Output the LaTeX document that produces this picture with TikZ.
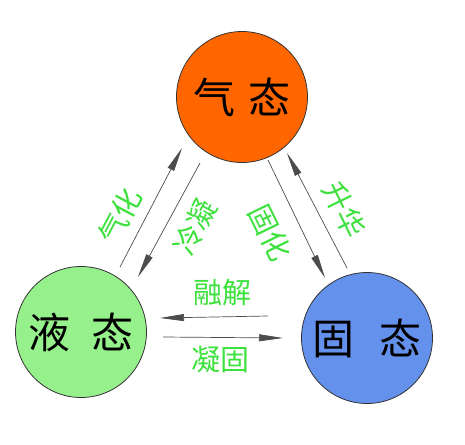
\documentclass[tikz,border=0pt]{standalone}
\usepackage{fontspec}
\setmainfont{Noto Sans CJK SC}
\usetikzlibrary{arrows.meta}
\definecolor{gasc}{RGB}{255,102,0}
\definecolor{liqc}{RGB}{150,240,140}
\definecolor{solc}{RGB}{100,145,235}
\definecolor{labc}{RGB}{60,225,60}
\tikzset{every picture/.style={line width=0.75pt}}
\tikzset{
  phase/.style={circle,draw=black!80,line width=0.8pt,minimum size=131pt,inner sep=0pt,font=\fontsize{42}{42}\selectfont},
  trans/.style={text=labc,inner sep=0pt,font=\fontsize{29}{29}\selectfont},
  flow/.style={->,>={Stealth[length=24pt,width=7pt,inset=0pt]},draw=black!70,line width=0.7pt}
}
\begin{document}
\begin{tikzpicture}[x=1pt,y=-1pt]
				\useasboundingbox (0,0) rectangle (465,444);
				\node[phase,fill=gasc] (gas) at (242,97) {气\hspace{0.3em}态}; %気体
				\node[phase,fill=liqc] (liq) at (81,332) {液\hspace{0.5em}态}; %液体
				\node[phase,fill=solc] (sol) at (367,338) {固\hspace{0.6em}态}; %固体
				% 端点
				\coordinate (a1) at (120,267); \coordinate (a2) at (182,148);
				\coordinate (b1) at (200,163); \coordinate (b2) at (138,277);
				\coordinate (c1) at (268,160); \coordinate (c2) at (325,278);
				\coordinate (d1) at (347,268); \coordinate (d2) at (287,153);
				\coordinate (e1) at (268,316); \coordinate (e2) at (160,318);
				\coordinate (f1) at (163,337); \coordinate (f2) at (283,338);
				\draw[flow] (a1)--(a2);
				\draw[flow] (b1)--(b2);
				\draw[flow] (c1)--(c2);
				\draw[flow] (d1)--(d2);
				\draw[flow] (e1)--(e2);
				\draw[flow] (f1)--(f2);
				\node[trans,rotate=62] (vap) at (120,216) {气化};
				\node[trans,rotate=62] (cond) at (195,227) {冷凝};
				\node[trans,rotate=-64] (frz) at (270,233) {固化};
				\node[trans,rotate=-64] (sub) at (344,210) {升华};
				\node[trans] (melt) at (222,293) {融解};
				\node[trans] (soli) at (220,360) {凝固};
			\end{tikzpicture}
\end{document}
